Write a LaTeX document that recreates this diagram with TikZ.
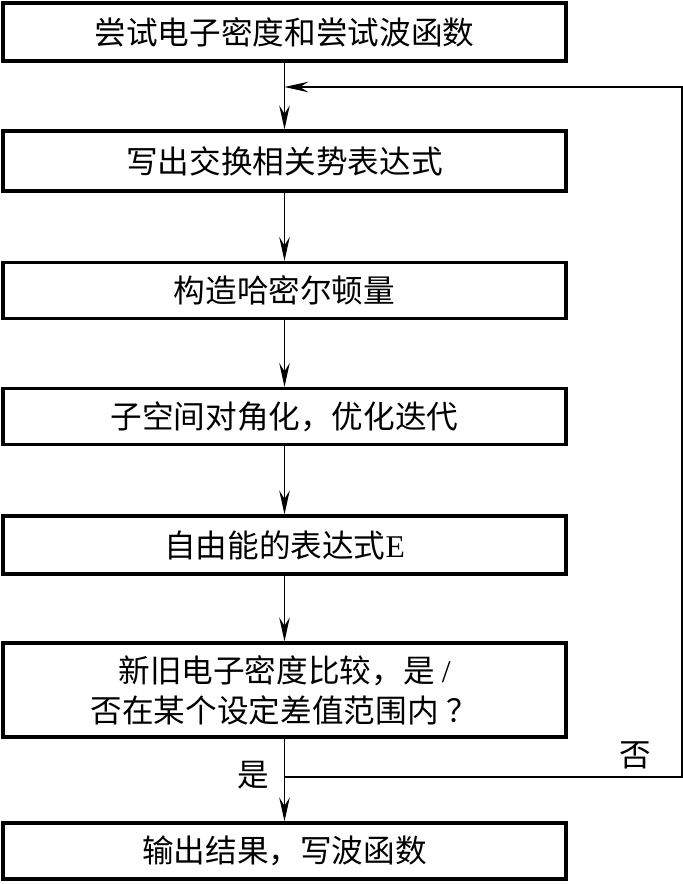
\documentclass[tikz,border=0pt]{standalone}
\usepackage{fontspec}
\setmainfont{Liberation Serif}
\newfontfamily\cjk{Noto Sans CJK SC}
\usetikzlibrary{arrows.meta}
\usetikzlibrary{positioning}

\begin{document}
\begin{tikzpicture}[x=0.025cm, y=-0.025cm,
    stepbox/.style={draw, line width=2.4pt, minimum width=14.08cm, minimum height=1.45cm,
        inner sep=0pt, align=center, font=\fontsize{22.5}{28.5}\selectfont\cjk},
    flow/.style={-{Stealth[length=17pt, width=7.5pt, inset=6pt]}, line width=0.9pt},
    lbl/.style={inner sep=0pt, font=\fontsize{22.5}{28.5}\selectfont\cjk}]
            \useasboundingbox (0,0) rectangle (683,884);

            % Steps
            \node[stepbox] (guess) at (284.5,32) {尝试电子密度和尝试波函数};
            \node[stepbox, minimum height=1.5cm] (xc) at (284.5,161) {写出交换相关势表达式};
            \node[stepbox, minimum height=1.4cm] (ham) at (284.5,290.5) {构造哈密尔顿量};
            \node[stepbox, minimum height=1.4cm] (diag) at (284.5,416.5) {子空间对角化，优化迭代};
            \node[stepbox] (energy) at (284.5,545) {自由能的表达式{\rmfamily E}};
            \node[stepbox, minimum height=2.35cm] (check) at (284.5,690) {新旧电子密度比较，是 {\rmfamily /}\\否在某个设定差值范围内\hspace{0.2cm}？};
            \node[stepbox, minimum height=1.4cm] (out) at (284.5,851) {输出结果，写波函数};

            % Forward arrows
            \draw[flow] (guess) -- (xc);
            \draw[flow] (xc) -- (ham);
            \draw[flow] (ham) -- (diag);
            \draw[flow] (diag) -- (energy);
            \draw[flow] (energy) -- (check);
            \draw[flow] (check) -- (out);

            % Feedback loop
            \coordinate (split) at (284.5,777);
            \coordinate (corner) at (682,777);
            \coordinate (join) at (284.5,87);
            \draw[flow] (split) -- (corner) |- (join);

            % Branch labels
            \node[lbl] (yes) at (253,775) {是};
            \node[lbl] (no) at (635,755) {否};

        \end{tikzpicture}
\end{document}
